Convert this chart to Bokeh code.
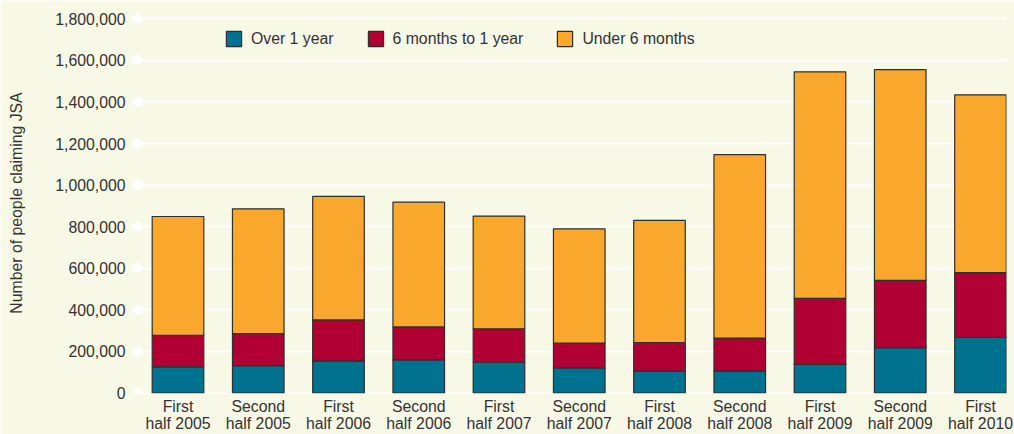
from bokeh.plotting import figure
from bokeh.models import Range1d, FixedTicker, NumeralTickFormatter
from bokeh.embed import file_html
from bokeh.resources import INLINE

categories = ["First\nhalf 2005", "Second\nhalf 2005", "First\nhalf 2006", "Second\nhalf 2006",
              "First\nhalf 2007", "Second\nhalf 2007", "First\nhalf 2008", "Second\nhalf 2008",
              "First\nhalf 2009", "Second\nhalf 2009", "First\nhalf 2010"]
over_1_year = [126000, 132000, 153000, 159000, 148000, 121000, 104000, 105000, 138000, 218000, 267000]
six_months_to_1_year = [151000, 154000, 199000, 159000, 161000, 119000, 139000, 159000, 317000, 324000, 312000]
under_6_months = [572000, 600000, 594000, 600000, 542000, 549000, 587000, 883000, 1090000, 1013000, 855000]
series_names = ["Over 1 year", "6 months to 1 year", "Under 6 months"]
y_ticks = [0, 200000, 400000, 600000, 800000, 1000000, 1200000, 1400000, 1600000, 1800000]

BG = "#f8f8e6"
TXT = "#333333"
FONT = "Liberation Sans"
FS = "15.8px"

x_pos = [i + 0.5 for i in range(len(categories))]
data = dict(x=x_pos, over=over_1_year, mid=six_months_to_1_year, under=under_6_months)

p = figure(width=1014, height=434, output_backend="svg", toolbar_location=None,
           x_range=Range1d(-0.0794, 10.824), y_range=Range1d(-2400, 1830225),
           min_border_left=131, min_border_right=8, min_border_top=12, min_border_bottom=38)
p.background_fill_color = BG
p.border_fill_color = BG
p.outline_line_color = None

renderers = p.vbar_stack(["over", "mid", "under"], x="x", width=0.643, source=data,
                         color=["#00718f", "#b10034", "#f9a82d"],
                         line_color="#2e2e2e", line_width=1.2,
                         legend_label=series_names)

# white dots at gridline starts
p.scatter(x=[0] * len(y_ticks), y=y_ticks, size=10, color="white", line_color=None, level="underlay")

p.xgrid.grid_line_color = None
p.ygrid.grid_line_color = "white"
p.ygrid.grid_line_width = 2
p.ygrid.ticker = FixedTicker(ticks=y_ticks)

p.yaxis.ticker = FixedTicker(ticks=y_ticks)
p.yaxis.formatter = NumeralTickFormatter(format="0,0")
p.yaxis.axis_label = "Number of people claiming JSA"
p.yaxis.axis_label_text_font_style = "normal"
p.yaxis.axis_label_standoff = 27

p.xaxis.ticker = FixedTicker(ticks=x_pos)
p.xaxis.major_label_overrides = {x: c for x, c in zip(x_pos, categories)}
p.xaxis.major_label_text_line_height = 1.0

for ax in (p.xaxis, p.yaxis):
    ax.axis_line_color = None
    ax.major_tick_line_color = None
    ax.minor_tick_line_color = None
    ax.major_tick_out = 0
    ax.major_tick_in = 0
    ax.minor_tick_out = 0
    ax.minor_tick_in = 0
    ax.major_label_text_font = FONT
    ax.major_label_text_font_size = FS
    ax.major_label_text_color = TXT
    ax.axis_label_text_font = FONT
    ax.axis_label_text_font_size = FS
    ax.axis_label_text_color = TXT
p.yaxis.major_label_standoff = 6
p.xaxis.major_label_standoff = 4

lg = p.legend[0]
lg.orientation = "horizontal"
lg.location = (93, 345)
lg.padding = 0
lg.margin = 0
lg.spacing = 32
lg.label_standoff = 8
lg.glyph_width = 19
lg.glyph_height = 19
lg.label_height = 19
lg.label_text_font = FONT
lg.label_text_font_size = FS
lg.label_text_color = TXT
lg.border_line_color = None
lg.background_fill_alpha = 0

open("out.html", "w").write(file_html(p, INLINE))
